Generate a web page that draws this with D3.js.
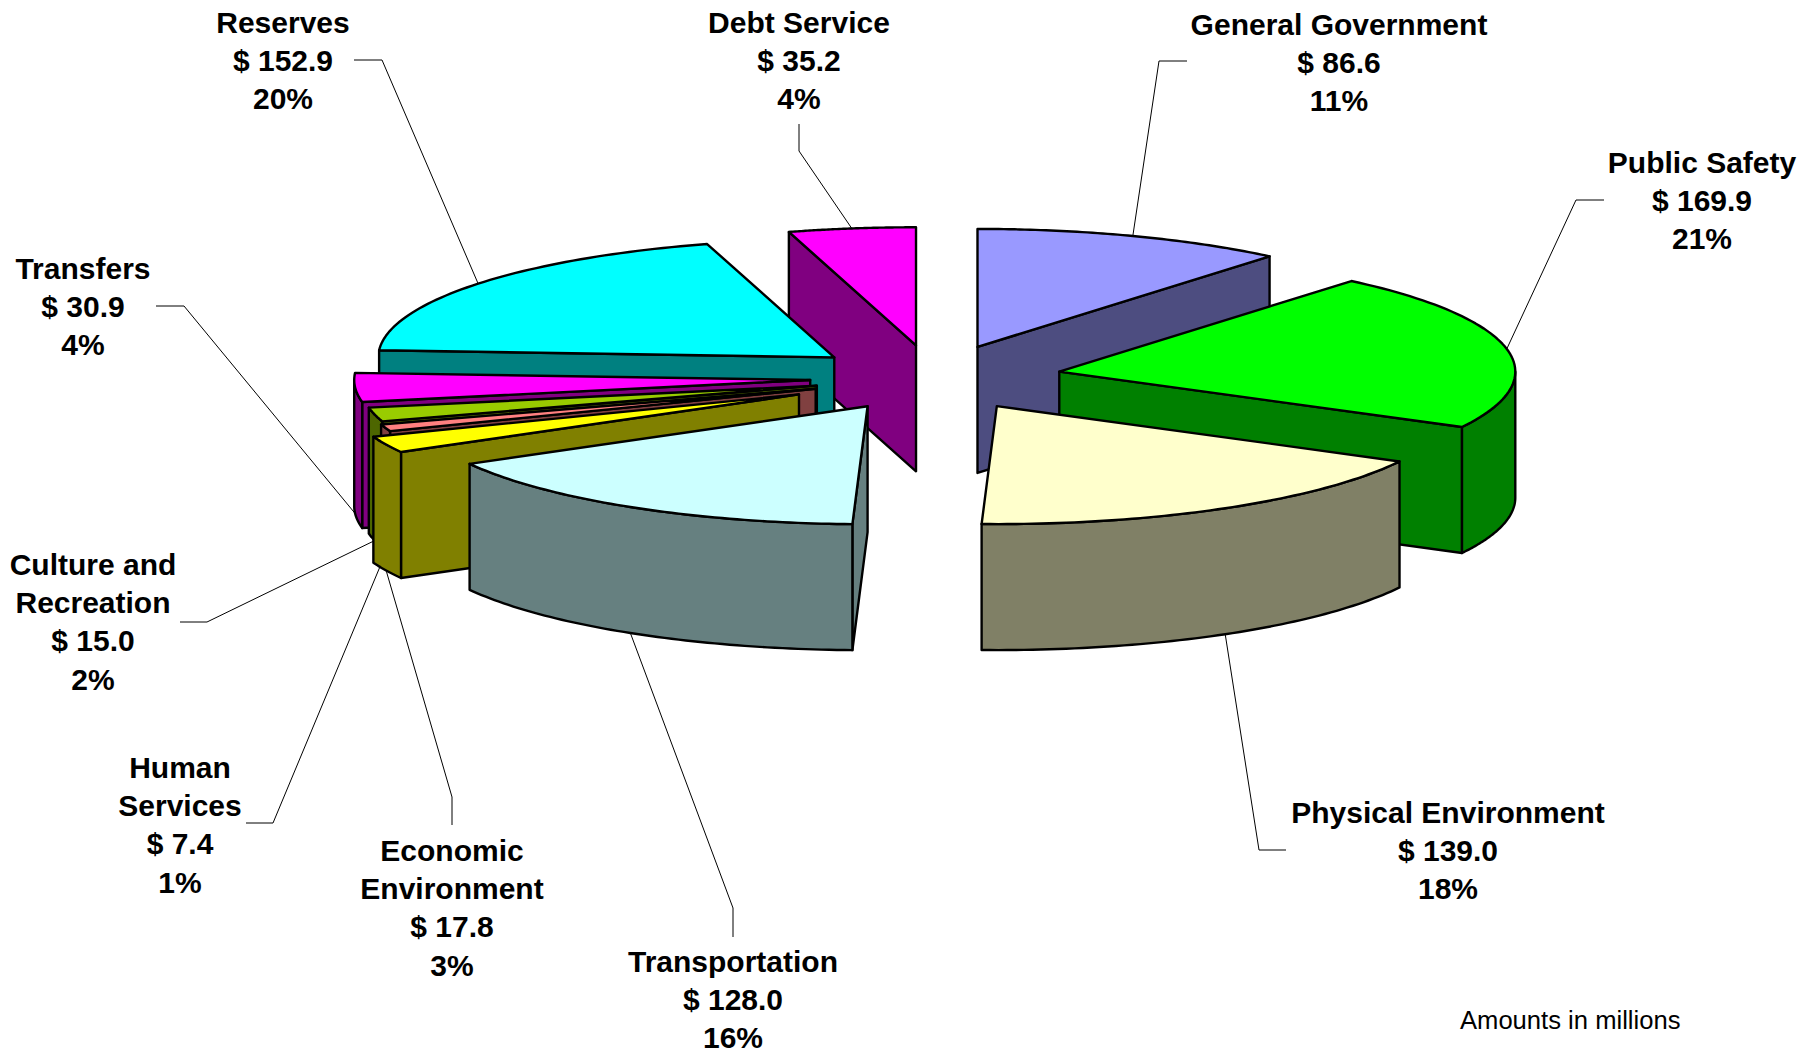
<!DOCTYPE html>
<html><head><meta charset="utf-8">
<script src="https://cdn.jsdelivr.net/npm/d3@7"></script>
<style>
html,body{margin:0;padding:0;background:#fff}
svg{display:block}
text{font-family:"Liberation Sans",Arial,sans-serif;fill:#000}
</style></head><body>
<svg id="chart" width="1813" height="1053"></svg>
<script>
// ---- data ----
const categories = ["General Government","Public Safety","Physical Environment","Transportation","Economic Environment","Human Services","Culture and Recreation","Transfers","Reserves","Debt Service"];
const values = [86.6,169.9,139.0,128.0,17.8,7.4,15.0,30.9,152.9,35.2];
const percents = ["11%","21%","18%","16%","3%","1%","2%","4%","20%","4%"];
const labelLines = [["General Government"],["Public Safety"],["Physical Environment"],["Transportation"],["Economic","Environment"],["Human","Services"],["Culture and","Recreation"],["Transfers"],["Reserves"],["Debt Service"]];
// ---- styles and layout ----
const topColors = ["#9999FF","#00FF00","#FFFFCC","#CCFFFF","#FFFF00","#FF8080","#99CC00","#FF00FF","#00FFFF","#FF00FF"];
const sideColors = ["#4D4D80","#008000","#808066","#668080","#808000","#804040","#4D6600","#800080","#008080","#800080"];
const explosion = [.28,.28,.275,.28,.327,.275,.265,.272,.28,.28];
const paintOrder = [9,0,8,1,7,6,5,4,2,3];
const labelCenter = [[1339,24],[1702,162],[1448,812],[733,961],[452,850],[180,767],[93,564],[83,268],[283,22],[799,22]];
const elbows = [[[1187,61],[1159,61]],[[1604,200],[1576,200]],[[1286,850],[1259,850]],[[733,937],[733,908]],[[452,825],[452,797]],[[246,823],[273,823]],[[180,622],[207,622]],[[156,306],[184,306]],[[354,60],[382,60]],[[799,124],[799,151]]];
const cx=934, cy=378, rx=456, ry=118, depth=126, lineGap=38.4;

const svg=d3.select("#chart");
const arcs=d3.pie().sort(null).startAngle(0).endAngle(2*Math.PI)(values);
const line=d3.line();
const rimScaleX=d3.scaleLinear().domain([-1,1]).range([-rx,rx]);
const rimScaleY=d3.scaleLinear().domain([-1,1]).range([ry,-ry]);
const apexOf=i=>{const m=(arcs[i].startAngle+arcs[i].endAngle)/2;
  return [cx+explosion[i]*rimScaleX(Math.sin(m)),cy+explosion[i]*rimScaleY(Math.cos(m))];};
const rim=(i,t)=>{const a=apexOf(i);return [a[0]+rimScaleX(Math.sin(t)),a[1]+rimScaleY(Math.cos(t))];};
const down=(p)=>[p[0],p[1]+depth];
const sample=(a,b)=>d3.range(0,1.0001,1/60).map(f=>a+(b-a)*f);
const above=(A,B,C)=>{ // C lies above line A-B on screen
  const dx=B[0]-A[0]; if(Math.abs(dx)<1e-6) return false;
  return C[1] < A[1]+(B[1]-A[1])/dx*(C[0]-A[0]);};

// leader lines
const leaders=svg.append("g").attr("fill","none").attr("stroke","#000").attr("stroke-width",1);
arcs.forEach((d,i)=>{
  const m=(d.startAngle+d.endAngle)/2;
  let end=rim(i,m); if(Math.cos(m)<0) end=down(end);
  leaders.append("path").attr("d",line([elbows[i][0],elbows[i][1],end]));
});

// slices
const pieG=svg.append("g").attr("stroke","#000").attr("stroke-width",2.4).attr("stroke-linejoin","round");
paintOrder.forEach(i=>{
  const d=arcs[i],A=apexOf(i),B=rim(i,d.startAngle),C=rim(i,d.endAngle);
  const g=pieG.append("g").attr("class","slice");
  const wall=P=>g.append("path").attr("fill",sideColors[i]).attr("d",line([A,P,down(P),down(A)])+"Z");
  if(above(A,B,C)) wall(B);
  if(above(A,C,B)) wall(C);
  const lo=Math.max(d.startAngle,Math.PI/2),hi=Math.min(d.endAngle,3*Math.PI/2);
  if(hi>lo){
    const ts=sample(lo,hi).map(t=>rim(i,t));
    g.append("path").attr("fill",sideColors[i]).attr("d",line(ts.concat(ts.slice().reverse().map(down)))+"Z");
  }
  g.append("path").attr("fill",topColors[i]).attr("d",line([A].concat(sample(d.startAngle,d.endAngle).map(t=>rim(i,t))))+"Z");
});

// labels
arcs.forEach((d,i)=>{
  const lines=labelLines[i].concat(["$ "+d3.format(".1f")(values[i]),percents[i]]);
  const t=svg.append("text").attr("text-anchor","middle").attr("font-size",30).attr("font-weight","bold");
  lines.forEach((s,k)=>t.append("tspan").attr("x",labelCenter[i][0]).attr("y",labelCenter[i][1]+k*lineGap).attr("dy","0.35em").text(s));
});
svg.append("text").attr("x",1460).attr("y",1020).attr("dy","0.35em").attr("font-size",25.6).text("Amounts in millions");
</script>
</body></html>
